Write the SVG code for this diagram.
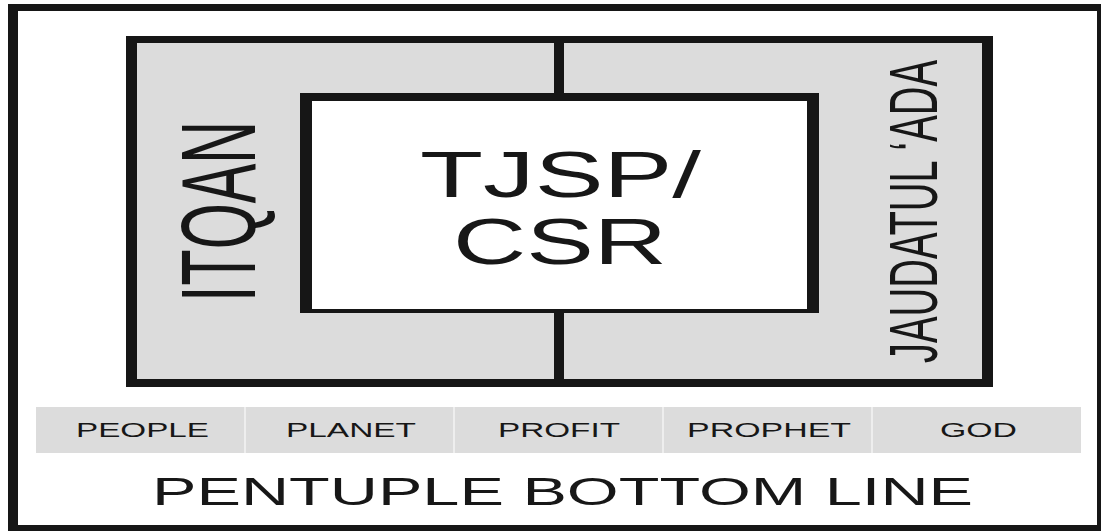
<svg xmlns="http://www.w3.org/2000/svg" width="1101" height="531" viewBox="0 0 1101 531">
  <style>
    .ink { fill: #161616; }
    .panel { fill: #dcdcdc; }
    .paper { fill: #ffffff; }
    .label { font-family: "Liberation Sans", Arial, sans-serif; fill: #171717; }
    .cell { font-size: 20px; text-anchor: start; }
    .divider { stroke: #f4f4f4; stroke-width: 1.5; }
  </style>

  <rect x="0" y="0" width="1101" height="531" fill="#ffffff"/>

  <!-- outer frame -->
  <g id="frame">
    <rect class="ink" x="8" y="4" width="1093" height="527"/>
    <rect class="paper" x="18" y="11" width="1079" height="514"/>
  </g>

  <!-- grey panel holding the two side labels -->
  <g id="panel">
    <rect class="ink" x="126" y="36" width="867" height="351"/>
    <rect class="panel" x="137" y="43" width="845" height="336"/>
  </g>

  <!-- connectors: vertical bar through the centre box -->
  <g id="connectors">
    <rect class="ink" x="554" y="43" width="10" height="52"/>
    <rect class="ink" x="554" y="311" width="10" height="70"/>
  </g>

  <g id="itqan">
    <text class="label" font-size="105" transform="translate(255,302) rotate(-90)" textLength="181" lengthAdjust="spacingAndGlyphs">ITQAN</text>
  </g>

  <g id="jaudatul-ada">
    <text class="label" font-size="68" transform="translate(937,363) rotate(-90)" textLength="303" lengthAdjust="spacingAndGlyphs">JAUDATUL ‘ADA</text>
  </g>

  <!-- centre box -->
  <g id="tjsp-csr">
    <rect class="ink" x="300" y="93" width="519" height="220"/>
    <rect class="paper" x="312" y="101" width="495" height="208"/>
    <text class="label" font-size="65" x="420" y="197" textLength="281" lengthAdjust="spacingAndGlyphs">TJSP/</text>
    <text class="label" font-size="65" x="453" y="264" textLength="214" lengthAdjust="spacingAndGlyphs">CSR</text>
  </g>

  <!-- five-part band -->
  <g id="bottom-lines">
    <rect class="panel" x="36" y="407" width="1045" height="46"/>
    <line class="divider" x1="245" y1="407" x2="245" y2="453"/>
    <line class="divider" x1="454" y1="407" x2="454" y2="453"/>
    <line class="divider" x1="663" y1="407" x2="663" y2="453"/>
    <line class="divider" x1="872" y1="407" x2="872" y2="453"/>
    <g id="people"><text class="label cell" x="76" y="437" textLength="133" lengthAdjust="spacingAndGlyphs">PEOPLE</text></g>
    <g id="planet"><text class="label cell" x="286" y="437" textLength="130" lengthAdjust="spacingAndGlyphs">PLANET</text></g>
    <g id="profit"><text class="label cell" x="498" y="437" textLength="122" lengthAdjust="spacingAndGlyphs">PROFIT</text></g>
    <g id="prophet"><text class="label cell" x="687" y="437" textLength="164" lengthAdjust="spacingAndGlyphs">PROPHET</text></g>
    <g id="god"><text class="label cell" x="940" y="437" textLength="77" lengthAdjust="spacingAndGlyphs">GOD</text></g>
  </g>

  <g id="title">
    <text class="label" font-size="39" x="152" y="505" textLength="821" lengthAdjust="spacingAndGlyphs">PENTUPLE BOTTOM LINE</text>
  </g>
</svg>
